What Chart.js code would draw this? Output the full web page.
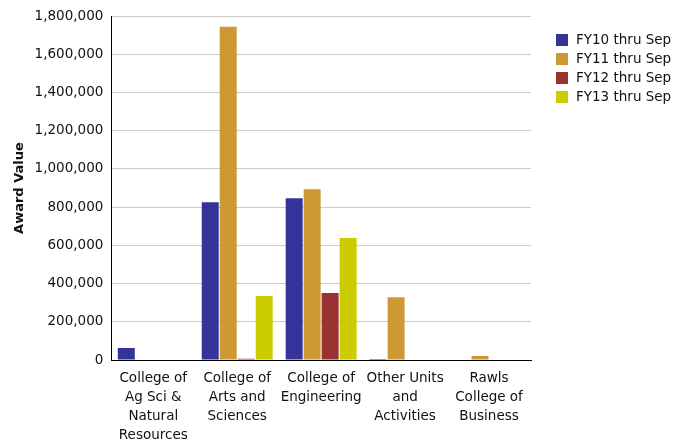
<!DOCTYPE html>
<html>
<head>
<meta charset="utf-8">
<script src="https://cdn.jsdelivr.net/npm/chart.js@4"></script>
<style>
html,body{margin:0;padding:0;background:#fff;}
#wrap{width:687px;height:440px;position:relative;}
</style>
</head>
<body>
<div id="wrap"><canvas id="c" width="687" height="440"></canvas></div>
<script>
const categories = [
  ["College of","Ag Sci &","Natural","Resources"],
  ["College of","Arts and","Sciences"],
  ["College of","Engineering"],
  ["Other Units","and","Activities"],
  ["Rawls","College of","Business"]
];
const seriesLabels = ["FY10 thru Sep","FY11 thru Sep","FY12 thru Sep","FY13 thru Sep"];
const fy10 = [63000, 826000, 847000, 5000, 0];
const fy11 = [0, 1744000, 894000, 329000, 21000];
const fy12 = [0, 6000, 351000, 0, 0];
const fy13 = [0, 335000, 638000, 2000, 0];
const colors = ["#333399","#CC9933","#993333","#CCCC00"];
const yTicks = [0,200000,400000,600000,800000,1000000,1200000,1400000,1600000,1800000];

const FONT = "DejaVu Sans";

const legendPlugin = {
  id: 'customLegend',
  afterDraw(chart) {
    const ctx = chart.ctx;
    ctx.save();
    ctx.font = "13.5px '" + FONT + "'";
    ctx.textBaseline = 'middle';
    ctx.textAlign = 'left';
    chart.data.datasets.forEach((ds, i) => {
      const y = 40 + i * 19;
      ctx.fillStyle = ds.backgroundColor;
      ctx.fillRect(556, y - 6, 12, 12);
      ctx.fillStyle = '#111';
      ctx.fillText(ds.label, 576, y);
    });
    ctx.restore();
  }
};

const values = [fy10, fy11, fy12, fy13];
new Chart(document.getElementById('c'), {
  type: 'bar',
  data: {
    labels: categories,
    datasets: seriesLabels.map((l, i) => ({
      label: l,
      data: values[i],
      backgroundColor: colors[i],
      borderWidth: 0,
      categoryPercentage: 0.857,
      barPercentage: 0.944
    }))
  },
  options: {
    responsive: false,
    animation: false,
    devicePixelRatio: 1,
    layout: { padding: { top: 7, right: 156, left: 12, bottom: 0 } },
    plugins: { legend: { display: false }, tooltip: { enabled: false } },
    scales: {
      x: {
        afterFit(scale) { scale.height = 80; },
        grid: { display: false, drawTicks: false },
        border: { display: true, color: '#000', width: 1 },
        ticks: { color: '#111', font: { family: FONT, size: 13.5, lineHeight: 1.41 }, maxRotation: 0, autoSkip: false, padding: 9 }
      },
      y: {
        min: 0, max: 1800000,
        afterBuildTicks(axis) { axis.ticks = yTicks.map(v => ({ value: v })); },
        grid: { color: '#cccccc', lineWidth: 1, tickLength: 0, drawTicks: false },
        border: { display: true, color: '#000', width: 1 },
        ticks: {
          color: '#111', font: { family: FONT, size: 13.5 }, padding: 8,
          callback: v => v.toLocaleString('en-US')
        },
        title: { display: true, text: 'Award Value', color: '#111', font: { family: FONT, size: 13, weight: 'bold' }, padding: { top: 0, bottom: -1 } }
      }
    }
  },
  plugins: [legendPlugin]
});
</script>
</body>
</html>
